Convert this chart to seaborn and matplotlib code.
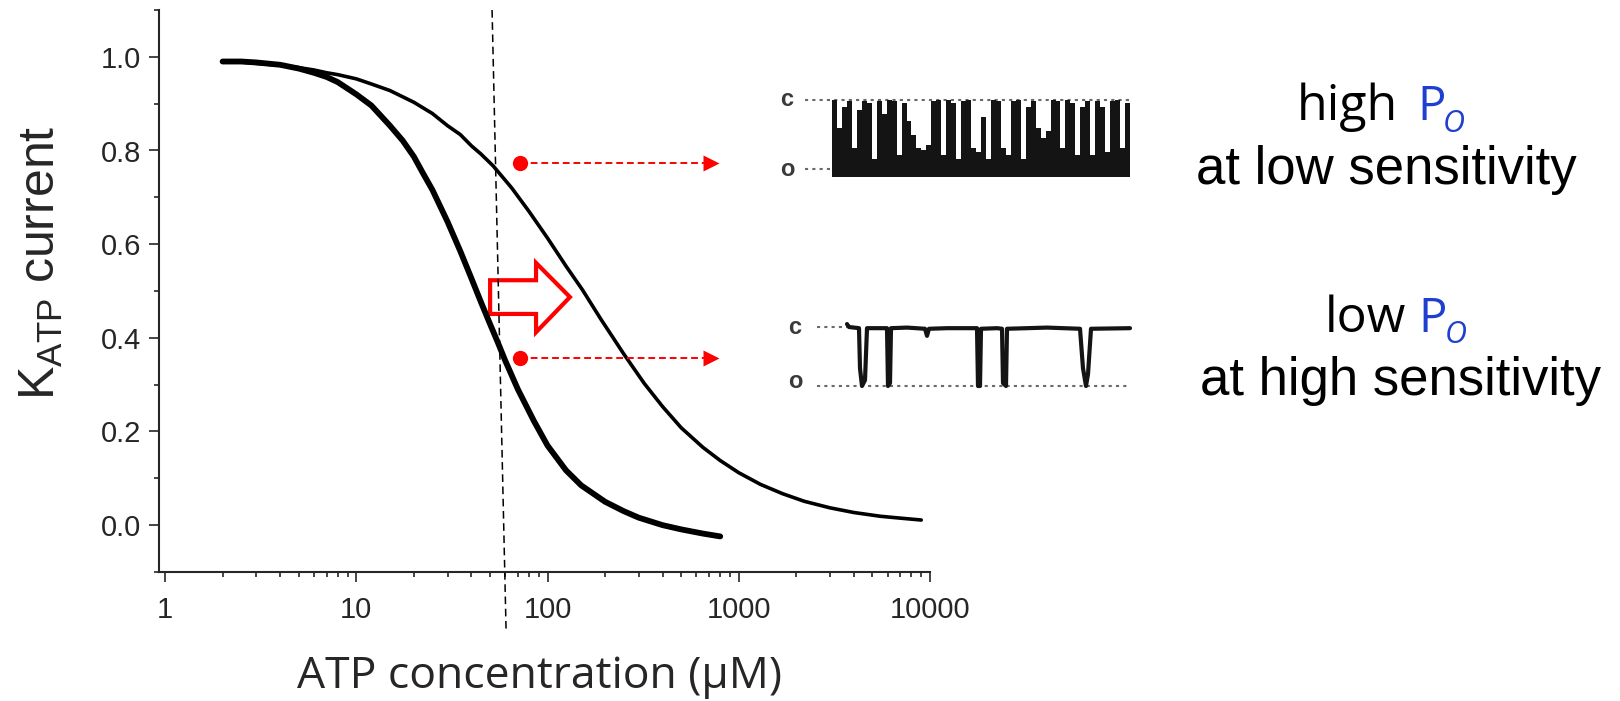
import matplotlib
matplotlib.use('Agg')
import matplotlib.pyplot as plt
from matplotlib.patches import Polygon
from matplotlib.ticker import FixedLocator, MultipleLocator, LogLocator, NullFormatter
import seaborn as sns
import pandas as pd

# dose-response curves
thin_atp = [2, 2.5, 3, 4, 5, 6, 7, 8, 10, 12, 15, 20, 25, 30, 35, 40, 45, 52, 65, 80, 100,
            125, 152, 190, 250, 320, 400, 500, 650, 800, 1000, 1300, 1700, 2200, 3000,
            4000, 5500, 7000, 9000]
thin_current = [0.991, 0.989, 0.986, 0.982, 0.977, 0.972, 0.966, 0.962, 0.953, 0.942, 0.928,
                0.903, 0.879, 0.853, 0.834, 0.81, 0.792, 0.767, 0.72, 0.67, 0.613, 0.553,
                0.503, 0.44, 0.366, 0.303, 0.253, 0.208, 0.166, 0.138, 0.112, 0.087, 0.067,
                0.051, 0.037, 0.027, 0.019, 0.015, 0.011]

thick_atp = [2, 2.5, 3, 4, 5, 6, 7, 8, 10, 12, 15, 17.5, 20, 22.5, 25, 30, 35, 40, 45, 50,
             55, 60, 70, 85, 100, 125, 150, 200, 250, 300, 400, 500, 650, 800]
thick_current = [0.99, 0.99, 0.988, 0.983, 0.975, 0.966, 0.957, 0.946, 0.92, 0.896, 0.853,
                 0.821, 0.787, 0.749, 0.716, 0.648, 0.585, 0.527, 0.475, 0.43, 0.39, 0.352,
                 0.29, 0.222, 0.17, 0.117, 0.085, 0.05, 0.03, 0.016, 0.0, -0.009, -0.018,
                 -0.024]

x_ticks = [1, 10, 100, 1000, 10000]
x_tick_labels = ['1', '10', '100', '1000', '10000']
y_ticks = [0.0, 0.2, 0.4, 0.6, 0.8, 1.0]
y_tick_labels = ['0.0', '0.2', '0.4', '0.6', '0.8', '1.0']

# annotations
ref_atp = [51.3, 60.7]
ref_current = [1.10, -0.222]
dot_atp = 71.8
dot_current = [0.774, 0.358]
dash_end_atp = 700
head_atp = 712
shift_atp = [50.1, 87.1, 87.1, 131, 87.1, 87.1, 50.1]
shift_current = [0.523, 0.523, 0.560, 0.487, 0.412, 0.451, 0.451]

# single channel traces (o = 0, c = 1)
high_po_heights = [1.0, 0.6, 0.9, 0.98, 0.3, 0.85, 0.98, 0.95, 0.15, 0.98, 0.8, 1.0, 0.98,
                   0.2, 0.95, 0.7, 0.5, 0.3, 0.28, 0.35, 0.98, 1.0, 0.2, 1.0, 0.95, 0.12,
                   0.98, 1.0, 0.3, 0.25, 0.75, 0.15, 1.0, 0.98, 0.3, 0.2, 0.98, 1.0, 0.15,
                   0.9, 0.98, 0.6, 0.45, 0.55, 1.0, 0.98, 0.3, 1.0, 0.95, 0.2, 0.9, 0.98,
                   0.2, 0.98, 0.9, 0.25, 0.98, 1.0, 0.3, 0.95]
low_po_time = [0, 2, 12, 13, 15, 18, 20, 40, 41, 43, 44, 60, 78, 80, 82, 100, 130, 131, 133,
               134, 150, 155, 156, 159, 160, 200, 233, 236, 239, 241, 244, 283]
low_po_level = [1.05, 1.0, 0.98, 0.3, 0.0, 0.1, 0.98, 0.98, 0.0, 0.05, 0.98, 0.99, 0.97, 0.85,
                0.97, 0.98, 0.98, 0.0, 0.0, 0.97, 0.98, 0.97, 0.05, 0.0, 0.97, 0.99, 0.97, 0.3,
                0.0, 0.2, 0.97, 0.98]

W, H = 1620, 701

sns.set_style('ticks')
plt.rcParams['font.family'] = ['Liberation Sans', 'DejaVu Sans']
plt.rcParams['mathtext.fontset'] = 'custom'
plt.rcParams['mathtext.rm'] = 'Liberation Sans'

fig = plt.figure(figsize=(W / 100, H / 100), dpi=100)
ax = fig.add_axes([159 / W, 1 - 572 / H, 771 / W, 562 / H])

df_thin = pd.DataFrame({'atp': thin_atp, 'current': thin_current})
df_thick = pd.DataFrame({'atp': thick_atp, 'current': thick_current})
sns.lineplot(data=df_thin, x='atp', y='current', color='black', lw=2.6, ax=ax,
             estimator=None, solid_capstyle='round')
sns.lineplot(data=df_thick, x='atp', y='current', color='black', lw=4.2, ax=ax,
             estimator=None, solid_capstyle='round')

ax.set_xscale('log')
ax.set_xlim(0.93, 10000)
ax.set_ylim(-0.1, 1.1)
ax.xaxis.set_major_locator(FixedLocator(x_ticks))
ax.set_xticklabels(x_tick_labels)
ax.xaxis.set_minor_locator(LogLocator(base=10, subs=range(2, 10)))
ax.xaxis.set_minor_formatter(NullFormatter())
ax.yaxis.set_major_locator(FixedLocator(y_ticks))
ax.set_yticklabels(y_tick_labels)
ax.yaxis.set_minor_locator(MultipleLocator(0.1))
sns.despine(ax=ax)
for s in ['left', 'bottom']:
    ax.spines[s].set_linewidth(1.5)
ax.tick_params(which='major', length=7, width=1.2, labelsize=21, direction='out')
ax.tick_params(which='minor', length=3.6, width=1.2, direction='out')
ax.tick_params(axis='x', which='major', pad=10)
ax.tick_params(axis='y', which='major', pad=6)

ax.set_xlabel('ATP concentration (μM)', fontsize=32, family=['Open Sans', 'DejaVu Sans'])
ax.xaxis.set_label_coords(0.494, -0.146)
ax.set_ylabel(r'K$_{\rm ATP}$ current', fontsize=36)
ax.yaxis.label.set_va('center')
ax.yaxis.set_label_coords(-0.152, 0.55)

# reference dashed line
ax.plot(ref_atp, ref_current, color='black', lw=1.1, dashes=(5, 3), clip_on=False)

# red dots with dashed arrows
for yv in dot_current:
    ax.plot([dot_atp, dash_end_atp], [yv, yv], color='red', lw=1.4, dashes=(3.5, 2))
    ax.plot([dot_atp], [yv], 'o', color='red', ms=11, mec='none')
    ax.plot([head_atp], [yv], '>', color='red', ms=12, mec='none')

# hollow shift arrow
ax.add_patch(Polygon(list(zip(shift_atp, shift_current)), closed=True, fill=False,
                     edgecolor='red', lw=3, joinstyle='miter'))


def px_axes(x0, y0, x1, y1):
    a = fig.add_axes([x0 / W, 1 - y1 / H, (x1 - x0) / W, (y1 - y0) / H])
    a.set_axis_off()
    return a


trace_color = '#141414'
dot_color = '#6a6a6a'
label_kw = dict(fontsize=17, fontweight='bold', color='#3a3a3a', ha='center', va='center')

# upper trace: high Po
ta = px_axes(775, 88, 1135, 182)
ta.set_xlim(775 - 832, 1135 - 832)
ta.set_ylim((169 - 182) / 69, (169 - 88) / 69)
seg_w = 298 / len(high_po_heights)
ta.plot([-27, 298], [1, 1], color=dot_color, lw=1.5, ls=(0, (1.5, 2)), zorder=1)
ta.plot([-27, 0], [0, 0], color=dot_color, lw=1.5, ls=(0, (1.5, 2)), zorder=1)
ta.bar([i * seg_w for i in range(len(high_po_heights))], high_po_heights, width=seg_w,
       align='edge', color=trace_color, linewidth=0, zorder=2)
ta.fill_between([0, 298], [-0.12, -0.12], [0.14, 0.14], color=trace_color, lw=0, zorder=2)
ta.text(-45, 1.0, 'c', **label_kw)
ta.text(-45, 0.0, 'o', **label_kw)

# lower trace: low Po
tb = px_axes(775, 305, 1135, 400)
tb.set_xlim(775 - 847, 1135 - 847)
tb.set_ylim((386 - 400) / 59, (386 - 305) / 59)
tb.plot([-30, 0], [1, 1], color=dot_color, lw=1.5, ls=(0, (1.5, 2)), zorder=1)
tb.plot([-30, 283], [0, 0], color=dot_color, lw=1.5, ls=(0, (1.5, 2)), zorder=1)
tb.plot(low_po_time, low_po_level, color=trace_color, lw=3, zorder=2)
tb.text(-52, 1.0, 'c', **label_kw)
tb.text(-52, 0.08, 'o', **label_kw)

# right-hand labels
blue = '#1f3fd0'
hand = ['Open Sans', 'DejaVu Sans']


def ftext(x, y, s, **kw):
    fig.text(x / W, 1 - y / H, s, va='baseline', **kw)


ftext(1297, 120, 'high', fontsize=36, family=hand, color='black', ha='left')
ftext(1417, 120, 'P', fontsize=34, family=hand, color=blue, ha='left')
ftext(1443, 132, 'O', fontsize=22, family=hand, style='italic', color=blue, ha='left')
ftext(1386, 184, 'at low sensitivity', fontsize=38, color='black', ha='center')

ftext(1325, 332, 'low', fontsize=36, family=hand, color='black', ha='left')
ftext(1418, 332, 'P', fontsize=34, family=hand, color=blue, ha='left')
ftext(1445, 343, 'O', fontsize=22, family=hand, style='italic', color=blue, ha='left')
ftext(1401, 395, 'at high sensitivity', fontsize=38, color='black', ha='center')

fig.savefig('out.png', dpi=100)
